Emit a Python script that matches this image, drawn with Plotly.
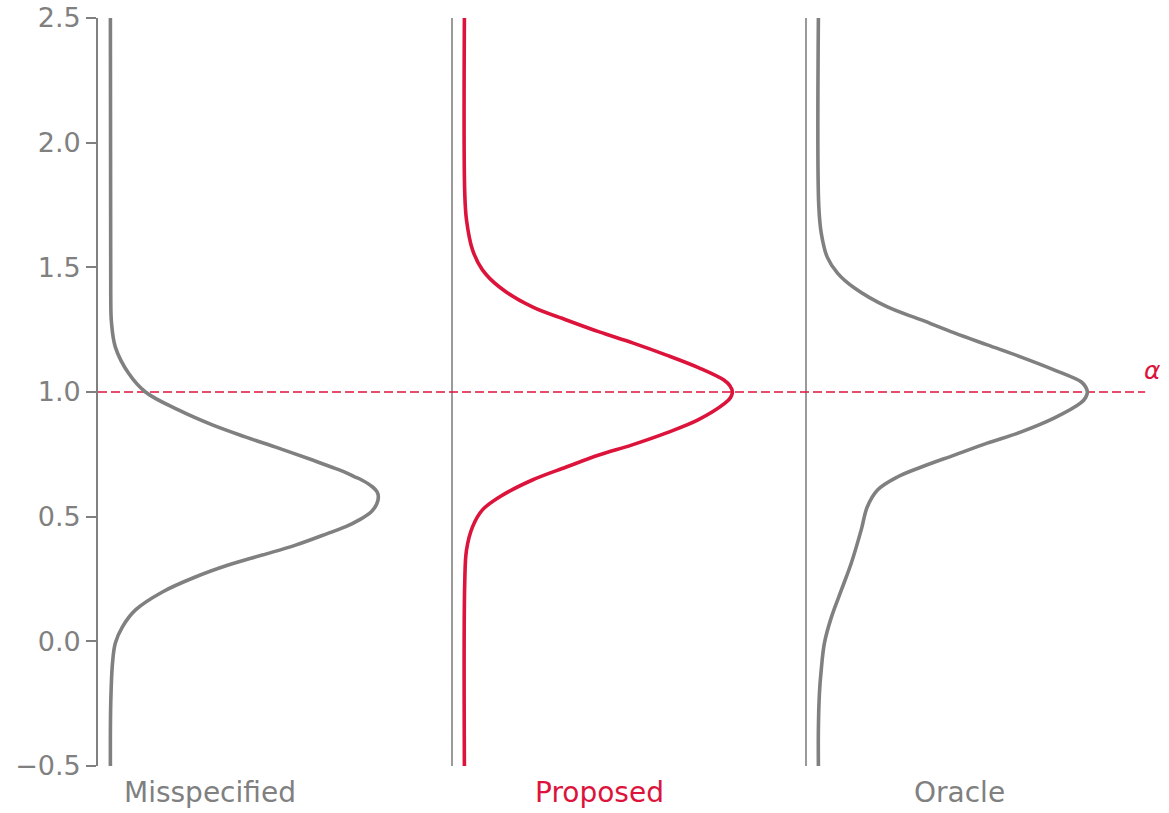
import plotly.graph_objects as go

# categories and their colours
categories = ["Misspecified", "Proposed", "Oracle"]
cat_colors = ["#808080", "#DC143C", "#808080"]
label_x = [0.316, 1.418, 2.435]
alpha_level = 1.0

# density curves: y values and curve width (x units)
mis_y = [2.5, 1.40, 1.28, 1.18, 1.076, 1.0, 0.928, 0.868, 0.82, 0.775, 0.727, 0.70, 0.679, 0.66, 0.647,
         0.62, 0.60, 0.579, 0.55, 0.52, 0.487, 0.46, 0.435, 0.386, 0.346, 0.306, 0.258, 0.198, 0.126,
         0.058, -0.007, -0.087, -0.25, -0.5]
mis_w = [0.0, 0.001, 0.003, 0.014, 0.051, 0.099, 0.192, 0.288, 0.381, 0.475, 0.571, 0.622, 0.662, 0.690, 0.710,
         0.740, 0.753, 0.757, 0.752, 0.737, 0.703, 0.665, 0.618, 0.523, 0.429, 0.333, 0.240, 0.147, 0.071,
         0.034, 0.014, 0.006, 0.001, 0.0]

pro_y = [2.5, 1.8, 1.69, 1.57, 1.49, 1.421, 1.341, 1.289, 1.241, 1.197, 1.148, 1.096, 1.048, 1.025, 1.0,
         0.978, 0.956, 0.888, 0.836, 0.787, 0.747, 0.699, 0.647, 0.579, 0.527, 0.459, 0.366, 0.234, -0.5]
pro_w = [0.0, 0.001, 0.006, 0.023, 0.051, 0.099, 0.192, 0.288, 0.381, 0.475, 0.571, 0.664, 0.733, 0.750, 0.757,
         0.752, 0.737, 0.660, 0.571, 0.472, 0.380, 0.288, 0.192, 0.099, 0.051, 0.023, 0.006, 0.001, 0.0]

ora_y = [2.5, 1.75, 1.638, 1.541, 1.477, 1.417, 1.341, 1.289, 1.237, 1.189, 1.14, 1.088, 1.04, 1.02, 1.0,
         0.978, 0.956, 0.896, 0.84, 0.795, 0.747, 0.699, 0.659, 0.607, 0.539, 0.447, 0.314, 0.206, 0.098,
         -0.007, -0.115, -0.207, -0.35, -0.5]
ora_w = [0.0, 0.001, 0.008, 0.025, 0.054, 0.102, 0.195, 0.291, 0.384, 0.477, 0.573, 0.667, 0.743, 0.755, 0.760,
         0.755, 0.741, 0.667, 0.573, 0.477, 0.384, 0.291, 0.223, 0.167, 0.138, 0.121, 0.093, 0.065, 0.037,
         0.017, 0.008, 0.003, 0.0, 0.0]

curves = [(mis_y, mis_w), (pro_y, pro_w), (ora_y, ora_w)]
offset = 0.035

fig = go.Figure()

# thin baselines for 2nd and 3rd category (the first one is the y axis)
for i in range(1, len(categories)):
    fig.add_trace(go.Scatter(x=[i, i], y=[-0.5, 2.5], mode="lines",
                             line=dict(color="#808080", width=1.6), showlegend=False, hoverinfo="skip"))

# alpha line
fig.add_trace(go.Scatter(x=[0, 2.958], y=[alpha_level, alpha_level], mode="lines",
                         line=dict(color="#DC143C", width=1.7, dash="9px,4px"),
                         showlegend=False, hoverinfo="skip"))

for i, (ys, ws) in enumerate(curves):
    fig.add_trace(go.Scatter(x=[i + offset + w for w in ws], y=ys, mode="lines",
                             line=dict(color=cat_colors[i], width=3.6, shape="spline", smoothing=1.0),
                             showlegend=False, hoverinfo="skip"))

for i, name in enumerate(categories):
    fig.add_annotation(x=label_x[i], y=-0.036, xref="x", yref="paper", text=name, showarrow=False,
                       yanchor="middle", xanchor="center",
                       font=dict(family="DejaVu Sans", size=28, color=cat_colors[i]))

fig.add_annotation(x=2.98, y=1.088, text="<i>α</i>", showarrow=False, xanchor="center", yanchor="middle",
                   font=dict(family="DejaVu Sans", size=25, color="#DC143C"))

fig.update_layout(
    width=1169, height=813,
    margin=dict(l=98, r=9, t=18, b=47),
    paper_bgcolor="white", plot_bgcolor="white",
    hovermode=False,
    xaxis=dict(range=[0, 3.0], showgrid=False, zeroline=False, showticklabels=False,
               showline=False, ticks="", automargin=False),
    yaxis=dict(range=[-0.5, 2.5], tickmode="array", tickvals=[-0.5, 0, 0.5, 1.0, 1.5, 2.0, 2.5],
               tickformat=".1f", showgrid=False, zeroline=False, showline=True, automargin=False,
               ticklabeloverflow="allow",
               linecolor="#808080", linewidth=1.6, ticks="outside", ticklen=10, tickwidth=1.6,
               tickcolor="#808080", tickfont=dict(family="DejaVu Sans", size=27, color="#808080")),
)

fig.write_html("out.html", config={"displayModeBar": False},
               post_script="document.body.style.margin='0';document.body.style.overflow='hidden';")
